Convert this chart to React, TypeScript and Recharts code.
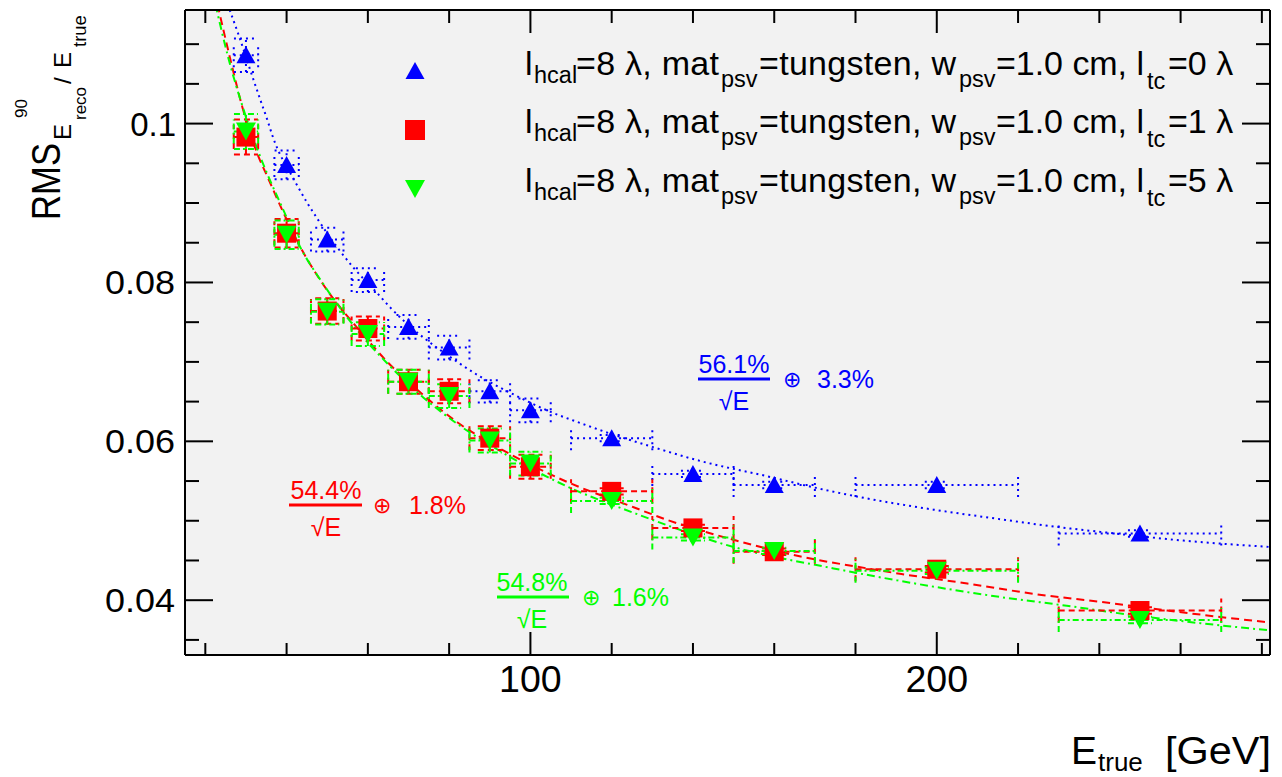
import React from 'react';
import { ComposedChart, XAxis, YAxis, Scatter, Line, ErrorBar, CartesianGrid } from 'recharts';

// ---------- data ----------
const energies = [30, 40, 50, 60, 70, 80, 90, 100, 120, 140, 160, 200, 250];
const energyErr = [3, 3, 4, 4, 5, 5, 5, 5, 10, 10, 10, 20, 20];

const ltc0Values = [0.1086, 0.0948, 0.0854, 0.0803, 0.0744, 0.0718, 0.0663, 0.0639, 0.0604, 0.0559, 0.0545, 0.0545, 0.0484];
const ltc0Err = [0.0021, 0.0018, 0.0015, 0.0015, 0.0015, 0.0015, 0.0014, 0.0015, 0.0004, 0.0004, 0.0004, 0.0004, 0.0004];

const ltc1Values = [0.0983, 0.0862, 0.0764, 0.0742, 0.0675, 0.0663, 0.0604, 0.0568, 0.0537, 0.0491, 0.0461, 0.0439, 0.0387];
const ltc1Err = [0.0022, 0.0018, 0.0016, 0.0015, 0.0015, 0.0015, 0.0015, 0.0015, 0.0004, 0.0004, 0.0004, 0.0004, 0.0004];

const ltc5Values = [0.0990, 0.0860, 0.0763, 0.0735, 0.0675, 0.0657, 0.0601, 0.0572, 0.0525, 0.0479, 0.0462, 0.0437, 0.0375];
const ltc5Err = [0.0022, 0.0018, 0.0016, 0.0015, 0.0015, 0.0015, 0.0015, 0.0015, 0.0004, 0.0004, 0.0004, 0.0004, 0.0004];

// fit curves
const fit0E = [25.5, 28.3, 31.6, 33.6, 35.3, 36.5, 42.2, 45.1, 47.6, 52.5, 56.4, 62.4, 65.6, 82, 87.8, 95.1, 105, 112.3, 117.2, 130, 142, 158.3, 170.6, 182.9, 199.2, 215.6, 229.9, 240.3, 260.7, 282];
const fit0V = [0.1150, 0.1110, 0.1059, 0.1029, 0.1004, 0.0985, 0.0926, 0.0900, 0.0880, 0.0844, 0.0819, 0.0786, 0.0768, 0.0700, 0.0681, 0.0661, 0.0637, 0.0623, 0.0614, 0.0593, 0.0575, 0.0556, 0.0541, 0.0528, 0.0514, 0.0502, 0.0492, 0.0486, 0.0475, 0.0467];

const fit1E = [23.0, 26.2, 29.1, 32.8, 35.3, 39.3, 44.2, 48.8, 58.2, 64.8, 73.7, 82, 91.8, 108.1, 125.4, 133.7, 150, 166.5, 182.9, 191.3, 207.5, 223.8, 240.2, 256.7, 273, 282];
const fit1V = [0.1150, 0.1080, 0.1021, 0.0962, 0.0933, 0.0887, 0.0837, 0.0799, 0.0738, 0.0700, 0.0658, 0.0624, 0.0593, 0.0551, 0.0517, 0.0501, 0.0476, 0.0455, 0.0440, 0.0433, 0.0421, 0.0408, 0.0398, 0.0387, 0.0377, 0.0372];

const fit5E = [22.5, 25.7, 29.2, 33.1, 39.3, 43.4, 48.9, 58.2, 64.8, 73.7, 82, 91.8, 109.1, 125.4, 150, 174.6, 191.3, 215.6, 232, 248.4, 264.9, 282];
const fit5V = [0.1150, 0.1082, 0.1021, 0.0964, 0.0890, 0.0844, 0.0799, 0.0735, 0.0698, 0.0655, 0.0622, 0.0590, 0.0543, 0.0510, 0.0467, 0.0440, 0.0424, 0.0404, 0.0393, 0.0381, 0.0371, 0.0362];

const xTicks = [20, 40, 60, 80, 100, 120, 140, 160, 180, 200, 220, 240, 260, 280];
const xMajorTicks = [100, 200];
const xMajorLabels = ['100', '200'];
const yTicks = [0.035, 0.04, 0.045, 0.05, 0.055, 0.06, 0.065, 0.07, 0.075, 0.08, 0.085, 0.09, 0.095, 0.1, 0.105, 0.11];
const yMajorTicks = [0.04, 0.06, 0.08, 0.1];
const yMajorLabels = ['0.04', '0.06', '0.08', '0.1'];

const legendLtc = ['0', '1', '5'];
const fitTerms = [
  { stoch: '56.1%', constant: '3.3%' },
  { stoch: '54.4%', constant: '1.8%' },
  { stoch: '54.8%', constant: '1.6%' },
];

// ---------- styling ----------
const FONT = '"Liberation Sans", Arial, Helvetica, sans-serif';
const BLUE = '#0000ff';
const RED = '#ff0000';
const GREEN = '#00ff00';
const X_DOMAIN: [number, number] = [15, 282];
const Y_DOMAIN: [number, number] = [0.0331, 0.1143];

const mk = (vals: number[], errs: number[]) =>
  energies.map((x, i) => ({ x, y: vals[i], ex: energyErr[i], ey: errs[i] }));
const mkFit = (es: number[], vs: number[]) => es.map((x, i) => ({ x, y: vs[i] }));

const data0 = mk(ltc0Values, ltc0Err);
const data1 = mk(ltc1Values, ltc1Err);
const data5 = mk(ltc5Values, ltc5Err);
const fit0 = mkFit(fit0E, fit0V);
const fit1 = mkFit(fit1E, fit1V);
const fit5 = mkFit(fit5E, fit5V);

const near = (a: number, b: number) => Math.abs(a - b) < 1e-9;

const TriUp = (p: any) => {
  const { cx, cy } = p;
  return <polygon points={`${cx},${cy - 9} ${cx - 9.5},${cy + 8} ${cx + 9.5},${cy + 8}`} fill={BLUE} />;
};
const Square = (p: any) => {
  const { cx, cy } = p;
  return <rect x={cx - 9.5} y={cy - 9.5} width={19} height={19} fill={RED} />;
};
const TriDown = (p: any) => {
  const { cx, cy } = p;
  return <polygon points={`${cx - 10},${cy - 9} ${cx + 10},${cy - 9} ${cx},${cy + 9}`} fill={GREEN} />;
};

const LeftTick = (p: any) => {
  const { x, y, payload } = p;
  const idx = yMajorTicks.findIndex((t) => near(t, payload.value));
  const major = idx >= 0;
  const label = major ? yMajorLabels[idx] : '';
  const long = label.length > 3;
  return (
    <g>
      <line x1={x} x2={x + (major ? 28 : 14)} y1={y} y2={y} stroke="#000" strokeWidth={2} />
      {major && (
        <text
          x={long ? x - 10 : x - 9} y={y + 12} textAnchor="end" fontSize={33} fontFamily={FONT} fill="#000"
          {...(long ? { textLength: 70, lengthAdjust: 'spacingAndGlyphs' } : {})}
        >
          {label}
        </text>
      )}
    </g>
  );
};
const RightTick = (p: any) => {
  const { x, y, payload } = p;
  const major = yMajorTicks.some((t) => near(t, payload.value));
  return <line x1={x} x2={x - (major ? 28 : 14)} y1={y} y2={y} stroke="#000" strokeWidth={2} />;
};
const BottomTick = (p: any) => {
  const { x, y, payload } = p;
  const idx = xMajorTicks.findIndex((t) => near(t, payload.value));
  const major = idx >= 0;
  return (
    <g>
      <line x1={x} x2={x} y1={y} y2={y - (major ? 23 : 12)} stroke="#000" strokeWidth={2} />
      {major && (
        <text x={x} y={y + 37} textAnchor="middle" fontSize={37.5} fontFamily={FONT} fill="#000">
          {xMajorLabels[idx]}
        </text>
      )}
    </g>
  );
};
const TopTick = (p: any) => {
  const { x, y, payload } = p;
  const major = xMajorTicks.some((t) => near(t, payload.value));
  return <line x1={x} x2={x} y1={y} y2={y + (major ? 23 : 13)} stroke="#000" strokeWidth={2} />;
};

const legendRows = [
  { shape: 'up', base: 75, cy: 71 },
  { shape: 'sq', base: 133, cy: 130 },
  { shape: 'down', base: 192, cy: 189 },
];

const LegendMarker = ({ shape, cx, cy }: any) => {
  if (shape === 'up') return <polygon points={`${cx},${cy - 9} ${cx - 9.5},${cy + 8} ${cx + 9.5},${cy + 8}`} fill={BLUE} />;
  if (shape === 'sq') return <rect x={cx - 10} y={cy - 10} width={20} height={20} fill={RED} />;
  return <polygon points={`${cx - 10},${cy - 9} ${cx + 10},${cy - 9} ${cx},${cy + 9}`} fill={GREEN} />;
};

const Fraction = ({ cx, barY, x0, x1, color, stoch, constant, plusX, constX }: any) => (
  <g fill={color} fontFamily={FONT}>
    <text x={cx} y={barY - 6} textAnchor="middle" fontSize={25}>{stoch}</text>
    <line x1={x0} x2={x1} y1={barY} y2={barY} stroke={color} strokeWidth={3} />
    <text x={cx} y={barY + 31} textAnchor="middle" fontSize={25}>√E</text>
    <text x={plusX} y={barY + 8} textAnchor="middle" fontSize={22}>⊕</text>
    <text x={constX} y={barY + 9} fontSize={25}>{constant}</text>
  </g>
);

export default function App() {
  const errDot = { strokeWidth: 2, strokeDasharray: '2 4' };
  return (
    <div style={{ position: 'absolute', left: 0, top: 0, width: 1282, height: 777, background: '#fff', overflow: 'hidden' }}>
      <ComposedChart width={1282} height={777} margin={{ top: 0, right: 0, bottom: 0, left: 0 }}>
        <CartesianGrid fill="#f2f2f2" horizontal={false} vertical={false} stroke="none" />
        <XAxis
          dataKey="x" type="number" domain={X_DOMAIN} allowDataOverflow ticks={xTicks} interval={0}
          height={122} tickSize={0} tickMargin={0} tickLine={false} tick={BottomTick}
          axisLine={{ stroke: '#000', strokeWidth: 2 }}
        />
        <XAxis
          xAxisId="top" orientation="top" dataKey="x" type="number" domain={X_DOMAIN} allowDataOverflow
          ticks={xTicks} interval={0} height={10} tickSize={0} tickMargin={0} tickLine={false} tick={TopTick}
          axisLine={{ stroke: '#000', strokeWidth: 2 }}
        />
        <YAxis
          dataKey="y" type="number" domain={Y_DOMAIN} allowDataOverflow ticks={yTicks} interval={0}
          width={185} tickSize={0} tickMargin={0} tickLine={false} tick={LeftTick}
          axisLine={{ stroke: '#000', strokeWidth: 2 }}
        />
        <YAxis
          yAxisId="right" orientation="right" dataKey="y" type="number" domain={Y_DOMAIN} allowDataOverflow
          ticks={yTicks} interval={0} width={12} tickSize={0} tickMargin={0} tickLine={false} tick={RightTick}
          axisLine={{ stroke: '#000', strokeWidth: 2 }}
        />

        <Line data={fit0} dataKey="y" type="monotone" stroke={BLUE} strokeWidth={2} strokeDasharray="2 4" dot={false} activeDot={false} isAnimationActive={false} />
        <Line data={fit1} dataKey="y" type="monotone" stroke={RED} strokeWidth={2} strokeDasharray="8 5" dot={false} activeDot={false} isAnimationActive={false} />
        <Line data={fit5} dataKey="y" type="monotone" stroke={GREEN} strokeWidth={2} strokeDasharray="8 4 2 4" dot={false} activeDot={false} isAnimationActive={false} />

        <Scatter data={data0} shape={TriUp} fill={BLUE} isAnimationActive={false}>
          <ErrorBar dataKey="ex" direction="x" width={12} stroke={BLUE} {...errDot} isAnimationActive={false} />
          <ErrorBar dataKey="ey" direction="y" width={12} stroke={BLUE} {...errDot} isAnimationActive={false} />
        </Scatter>
        <Scatter data={data1} shape={Square} fill={RED} isAnimationActive={false}>
          <ErrorBar dataKey="ex" direction="x" width={12} stroke={RED} strokeWidth={2} strokeDasharray="6 4" isAnimationActive={false} />
          <ErrorBar dataKey="ey" direction="y" width={12} stroke={RED} strokeWidth={2} strokeDasharray="6 4" isAnimationActive={false} />
        </Scatter>
        <Scatter data={data5} shape={TriDown} fill={GREEN} isAnimationActive={false}>
          <ErrorBar dataKey="ex" direction="x" width={12} stroke={GREEN} strokeWidth={2} strokeDasharray="6 3 2 3" isAnimationActive={false} />
          <ErrorBar dataKey="ey" direction="y" width={12} stroke={GREEN} strokeWidth={2} strokeDasharray="6 3 2 3" isAnimationActive={false} />
        </Scatter>
      </ComposedChart>

      <svg width={1282} height={777} style={{ position: 'absolute', left: 0, top: 0, pointerEvents: 'none' }}>
        {/* legend */}
        {legendRows.map((r, i) => (
          <g key={i} fontFamily={FONT} fill="#000">
            <LegendMarker shape={r.shape} cx={415} cy={r.cy} />
            <text x={525} y={r.base} fontSize={34}>l</text>
            <text x={534} y={r.base + 8} fontSize={23.5}>hcal</text>
            <text x={576} y={r.base} fontSize={34} textLength={143} lengthAdjust="spacing">=8 λ, mat</text>
            <text x={721} y={r.base + 12} fontSize={23.5}>psv</text>
            <text x={759} y={r.base} fontSize={34} textLength={197} lengthAdjust="spacing">=tungsten, w</text>
            <text x={959} y={r.base + 12} fontSize={23.5}>psv</text>
            <text x={996} y={r.base} fontSize={34} textLength={148} lengthAdjust="spacing">=1.0 cm, l</text>
            <text x={1147} y={r.base + 14} fontSize={23.5}>tc</text>
            <text x={1168} y={r.base} fontSize={34}>{`=${legendLtc[i]} λ`}</text>
          </g>
        ))}

        {/* fit annotations */}
        <Fraction cx={734} barY={379} x0={698} x1={770} color={BLUE} stoch={fitTerms[0].stoch} constant={fitTerms[0].constant} plusX={792} constX={817} />
        <Fraction cx={326} barY={505} x0={289} x1={362} color={RED} stoch={fitTerms[1].stoch} constant={fitTerms[1].constant} plusX={382} constX={409} />
        <Fraction cx={532} barY={597} x0={497} x1={569} color={GREEN} stoch={fitTerms[2].stoch} constant={fitTerms[2].constant} plusX={591} constX={612} />

        {/* y title */}
        <g transform="translate(60,220) rotate(-90)" fontFamily={FONT} fill="#000">
          <text x={0} y={0} fontSize={40} textLength={77} lengthAdjust="spacingAndGlyphs">RMS</text>
          <text x={102} y={-33} fontSize={17}>90</text>
          <text x={80} y={11} fontSize={24}>E</text>
          <text x={100} y={26} fontSize={17}>reco</text>
          <text x={136} y={11} fontSize={24}>/</text>
          <text x={152} y={11} fontSize={24}>E</text>
          <text x={173} y={26} fontSize={18.5}>true</text>
        </g>

        {/* x title */}
        <g fontFamily={FONT} fill="#000">
          <text x={1071} y={764} fontSize={39}>E</text>
          <text x={1098} y={771} fontSize={26}>true</text>
          <text x={1271} y={764} fontSize={39} textAnchor="end" textLength={106} lengthAdjust="spacingAndGlyphs">[GeV]</text>
        </g>
      </svg>
    </div>
  );
}
